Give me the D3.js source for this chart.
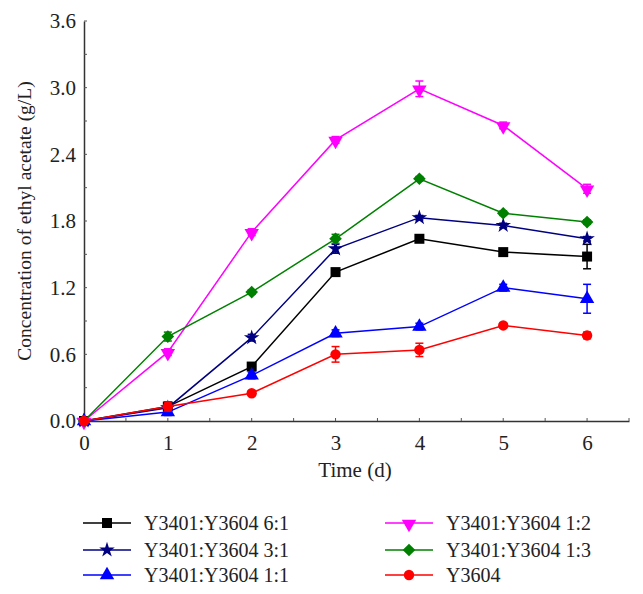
<!DOCTYPE html>
<html><head><meta charset="utf-8">
<script src="https://cdn.jsdelivr.net/npm/d3@7"></script>
<style>body{margin:0;background:#fff}</style>
</head><body>
<svg id="c" width="643" height="594"></svg>
<script>
const days = [0,1,2,3,4,5,6];
const seriesNames = ["Y3401:Y3604 6:1","Y3401:Y3604 3:1","Y3401:Y3604 1:1","Y3401:Y3604 1:2","Y3401:Y3604 1:3","Y3604"];
const v61 = [0,0.13,0.49,1.34,1.64,1.52,1.48];
const e61 = [0.01,0.04,0.02,0.03,0.02,0.02,0.11];
const v31 = [0,0.12,0.75,1.55,1.83,1.76,1.64];
const e31 = [0.01,0.03,0.03,0.04,0.02,0.02,0.02];
const v11 = [0,0.08,0.41,0.79,0.85,1.20,1.10];
const e11 = [0.01,0.03,0.03,0.03,0.03,0.03,0.13];
const v12 = [0,0.62,1.70,2.53,2.99,2.66,2.09];
const e12 = [0.01,0.03,0.03,0.03,0.07,0.03,0.04];
const v13 = [0,0.76,1.16,1.64,2.18,1.87,1.79];
const e13 = [0.01,0.04,0.02,0.04,0.02,0.02,0.02];
const vY = [0,0.13,0.25,0.60,0.64,0.86,0.77];
const eY = [0.01,0.04,0.02,0.07,0.06,0.02,0.03];
const yTicks = [0,0.6,1.2,1.8,2.4,3.0,3.6];
const xTicks = [0,1,2,3,4,5,6];
const colors = ["#000000","#000080","#0000ff","#ff00ff","#008000","#ff0000"];
const shapes = ["square","star","triangle","down","diamond","circle"];
const values = [v61,v31,v11,v12,v13,vY];
const errs = [e61,e31,e11,e12,e13,eY];
const FONT = "'Liberation Serif', 'DejaVu Serif', serif";

const svg = d3.select("#c");
const x = d3.scaleLinear().domain([0,6.5]).range([84,629]);
const y = d3.scaleLinear().domain([0,3.6]).range([421,21]);

function sym(s){
  const m={square:d3.symbolSquare,star:d3.symbolStar,triangle:d3.symbolTriangle,down:d3.symbolTriangle,diamond:d3.symbolSquare,circle:d3.symbolCircle};
  const sz={square:100,star:75,triangle:90,down:90,diamond:80,circle:85};
  return d3.symbol().type(m[s]).size(sz[s])();
}
function drawMarker(g,s,cx,cy,col){
  let p = g.append("path").attr("d",sym(s)).attr("fill",col);
  if(s==="down") p.attr("transform",`translate(${cx},${cy+1}) rotate(180)`);
  else if(s==="diamond") p.attr("transform",`translate(${cx},${cy}) rotate(45)`);
  else p.attr("transform",`translate(${cx},${cy})`);
}

// axes
const ya = svg.append("g").attr("transform","translate(84,0)")
  .call(d3.axisLeft(y).tickValues(yTicks).tickFormat(d3.format(".1f")).tickSize(0).tickPadding(8));
ya.attr("font-family",FONT);
ya.select(".domain").attr("stroke","#333").attr("stroke-width",1.5);
ya.selectAll("text").attr("font-size",21).attr("font-family",FONT).attr("fill","#222");
svg.append("g").selectAll("line").data(d3.range(0,3.61,0.3)).join("line")
  .attr("x1",84).attr("x2",87).attr("y1",d=>y(d)).attr("y2",d=>y(d)).attr("stroke","#555");
const xa = svg.append("g").attr("transform","translate(0,421)")
  .call(d3.axisBottom(x).tickValues(xTicks).tickFormat(d3.format("d")).tickSize(0).tickPadding(14));
xa.attr("font-family",FONT);
xa.select(".domain").attr("stroke","#333").attr("stroke-width",1.5);
xa.selectAll("text").attr("font-size",21).attr("font-family",FONT).attr("fill","#222");
svg.append("g").selectAll("line").data(d3.range(0,6.51,0.5)).join("line")
  .attr("x1",d=>x(d)).attr("x2",d=>x(d)).attr("y1",421).attr("y2",418).attr("stroke","#555");

svg.append("text").attr("x",355).attr("y",477).attr("text-anchor","middle").attr("font-size",21).attr("font-family",FONT).attr("fill","#222").text("Time (d)");
svg.append("text").attr("transform","translate(31,221) rotate(-90)").attr("text-anchor","middle").attr("font-size",19.5).attr("font-family",FONT).attr("fill","#222").text("Concentration of ethyl acetate (g/L)");

const line = d3.line().x((d,i)=>x(days[i])).y(d=>y(d));
values.forEach((vals,k)=>{
  const g = svg.append("g");
  g.append("path").attr("d",line(vals)).attr("fill","none").attr("stroke",colors[k]).attr("stroke-width",1.5);
  vals.forEach((v,i)=>{
    const e=errs[k][i]; if(e<0.02) return;
    const cx=x(days[i]);
    g.append("line").attr("x1",cx).attr("x2",cx).attr("y1",y(v+e)).attr("y2",y(v-e)).attr("stroke",colors[k]).attr("stroke-width",1.5);
    [v+e,v-e].forEach(t=>g.append("line").attr("x1",cx-4).attr("x2",cx+4).attr("y1",y(t)).attr("y2",y(t)).attr("stroke",colors[k]).attr("stroke-width",1.5));
  });
  vals.forEach((v,i)=>drawMarker(g,shapes[k],x(days[i]),y(v),colors[k]));
});

// legend
const lx=[83,385], ly=[523,550,575];
seriesNames.forEach((n,k)=>{
  const col=Math.floor(k/3), row=k%3;
  const g=svg.append("g");
  const x0=lx[col], yy=ly[row];
  g.append("line").attr("x1",x0).attr("x2",x0+48).attr("y1",yy).attr("y2",yy).attr("stroke",colors[k]).attr("stroke-width",1.5);
  drawMarker(g,shapes[k],x0+24,yy,colors[k]);
  g.append("text").attr("x",x0+61).attr("y",yy+7).attr("font-size",20).attr("font-family",FONT).attr("fill","#222").text(n);
});
</script>
</body></html>
